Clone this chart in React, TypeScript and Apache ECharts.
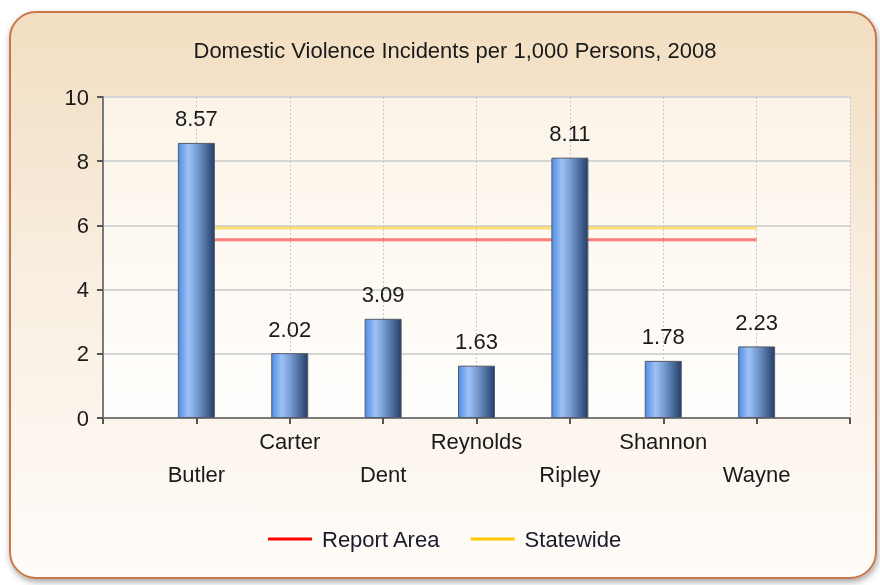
import React, { useEffect, useRef } from "react";
import * as echarts from "echarts";

const categories = ["Butler", "Carter", "Dent", "Reynolds", "Ripley", "Shannon", "Wayne"];
const values = [8.57, 2.02, 3.09, 1.63, 8.11, 1.78, 2.23];
const reportArea = 5.55;
const statewide = 5.92;
const yTicks = [0, 2, 4, 6, 8, 10];
const titleText = "Domestic Violence Incidents per 1,000 Persons, 2008";

export default function App() {
  const ref = useRef<HTMLDivElement>(null);
  useEffect(() => {
    if (!ref.current) return;
    const chart = echarts.init(ref.current, undefined, { renderer: "svg" });
    const font = "'Liberation Sans', Arial, sans-serif";
    const barData = values.map((v, i) => [i + 1, v]);
    const first = 1;
    const last = categories.length;
    chart.setOption({
      animation: false,
      textStyle: { fontFamily: font },
      graphic: [
        {
          type: "rect",
          z: -10,
          silent: true,
          shape: { x: 10, y: 12, width: 866, height: 566, r: 26 },
          style: {
            fill: new echarts.graphic.LinearGradient(0, 0, 0, 1, [
              { offset: 0, color: "#f2dec1" },
              { offset: 0.5, color: "#f9efe2" },
              { offset: 1, color: "#fffcf9" },
            ]),
            stroke: "#c8784a",
            lineWidth: 2,
            shadowBlur: 6,
            shadowOffsetY: 3,
            shadowOffsetX: 1,
            shadowColor: "rgba(0,0,0,0.35)",
          },
        },
      ],
      title: {
        text: titleText,
        left: 450,
        textAlign: "center",
        top: 34,
        textStyle: { fontFamily: font, fontSize: 22, fontWeight: "normal", color: "#1a1a1a" },
      },
      legend: {
        bottom: 30,
        left: 263,
        icon: "rect",
        itemWidth: 44,
        itemHeight: 3,
        itemGap: 30,
        textStyle: { fontFamily: font, fontSize: 22, color: "#1a1a2a", padding: [0, 0, 0, 5] },
        data: [
          { name: "Report Area", itemStyle: { color: "#ff0000", opacity: 1 } },
          { name: "Statewide", itemStyle: { color: "#ffc800", opacity: 1 } },
        ],
      },
      grid: {
        left: 103,
        right: 30,
        top: 97,
        bottom: 167,
        show: true,
        borderWidth: 0,
        backgroundColor: new echarts.graphic.LinearGradient(0, 0, 0, 1, [
          { offset: 0, color: "#fcf4e8" },
          { offset: 1, color: "#fffefd" },
        ]),
      },
      xAxis: {
        type: "value",
        min: 0,
        max: categories.length + 1,
        interval: 1,
        axisLine: { show: true, lineStyle: { color: "#7a7a7a", width: 2 } },
        axisTick: { show: true, length: 6, lineStyle: { color: "#555", width: 2 } },
        splitLine: { show: true, lineStyle: { color: "#c8c8c8", type: [2, 2], width: 1 } },
        axisLabel: {
          margin: 7,
          fontSize: 22,
          color: "#1a1a1a",
          lineHeight: 33,
          showMinLabel: true,
          showMaxLabel: true,
          formatter: (v: number) => {
            const idx = Math.round(v) - 1;
            if (idx < 0 || idx >= categories.length) return "";
            return idx % 2 === 0 ? "\n" + categories[idx] : categories[idx];
          },
        },
      },
      yAxis: {
        type: "value",
        min: yTicks[0],
        max: yTicks[yTicks.length - 1],
        interval: 2,
        axisLine: { show: true, lineStyle: { color: "#7a7a7a", width: 2 } },
        axisTick: { show: true, length: 6, lineStyle: { color: "#555", width: 2 } },
        splitLine: { show: true, lineStyle: { color: "#d6d6d6", width: 2 } },
        axisLabel: { margin: 14, fontSize: 22, color: "#1a1a1a" },
      },
      series: [
        {
          name: "Report Area",
          type: "line",
          z: 1,
          showSymbol: false,
          symbol: "none",
          data: [[first, reportArea], [last, reportArea]],
          itemStyle: { color: "#ff0000" },
          lineStyle: { color: "#ff0000", width: 3, opacity: 0.5 },
        },
        {
          name: "Statewide",
          type: "line",
          z: 1,
          showSymbol: false,
          symbol: "none",
          data: [[first, statewide], [last, statewide]],
          itemStyle: { color: "#ffc800" },
          lineStyle: { color: "#ffc800", width: 3, opacity: 0.5 },
        },
        {
          name: "Bars",
          type: "bar",
          z: 3,
          barWidth: 37,
          data: barData,
          itemStyle: {
            borderColor: "#555a66",
            borderWidth: 1,
            color: new echarts.graphic.LinearGradient(0, 0, 1, 0, [
              { offset: 0, color: "#4f8ee8" },
              { offset: 0.28, color: "#9ec2f4" },
              { offset: 0.5, color: "#7a9fd6" },
              { offset: 1, color: "#243f6a" },
            ]),
          },
          label: {
            show: true,
            position: "top",
            distance: 13,
            fontSize: 22,
            color: "#1a1a1a",
            formatter: (p: any) => p.value[1].toFixed(2),
          },
        },
      ],
    });
    return () => chart.dispose();
  }, []);
  return (
    <div
      ref={ref}
      style={{ position: "fixed", left: 0, top: 0, width: 880, height: 585 }}
    />
  );
}
